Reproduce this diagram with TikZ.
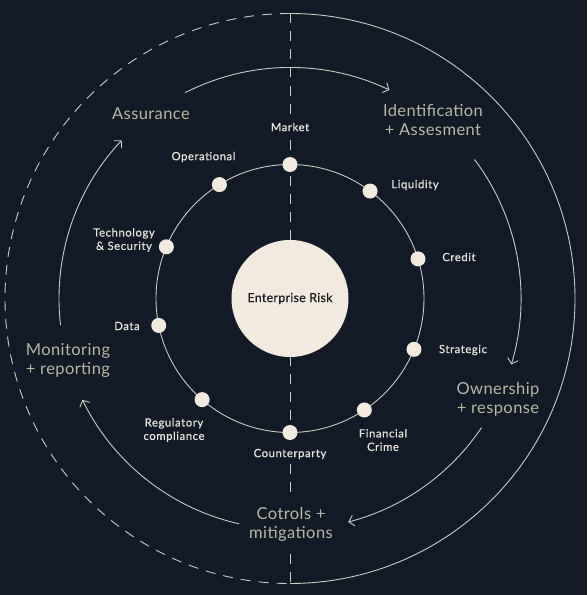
\documentclass[tikz,border=0pt]{standalone}
\usepackage{fontspec}
\setmainfont{Lato}
\newfontfamily\smallfam[LetterSpace=5,FakeBold=0.5]{Lato}
\newfontfamily\stagefam[LetterSpace=2.5]{Lato}
\newfontfamily\corefam[LetterSpace=2,FakeBold=0.4]{Lato}
\usetikzlibrary{arrows.meta}
\definecolor{bg}{HTML}{131A27}
\definecolor{cream}{HTML}{F2EADF}
\definecolor{ln}{HTML}{CBCBC4}
\definecolor{stage}{HTML}{B5B8A2}
\definecolor{lbl}{HTML}{E8E6DE}
\definecolor{coretext}{HTML}{1A1C22}
\tikzset{
  ring/.style={draw=ln, line width=0.9pt},
  dashring/.style={draw=ln, line width=0.9pt, dash pattern=on 10pt off 8pt},
  cyc/.style={draw=ln, line width=0.9pt, -{Straight Barb[length=5pt,width=11pt,line width=0.9pt]}},
  dot/.style={circle, fill=cream, inner sep=0pt, minimum size=15pt},
  small/.style={text=lbl, font=\smallfam\fontsize{11.3}{13.4}\selectfont, align=center, inner sep=0pt},
  stagelbl/.style={text=stage, font=\stagefam\fontsize{16.5}{19}\selectfont, align=center, inner sep=0pt},
  masked/.style={fill=bg, inner sep=5pt},
}
\begin{document}
\begin{tikzpicture}[x=1pt,y=1pt]
\fill[bg] (-290,-296.5) rectangle (297,298.5);
\useasboundingbox (-290,-296.5) rectangle (297,298.5);
% outer circle
\coordinate (top) at (0,285);
\coordinate (bot) at (0,-285);
\draw[ring] (top) arc[start angle=90, end angle=-90, radius=285];
\draw[dashring] (top) arc[start angle=90, end angle=270, radius=285];
\draw[dashring] (top) -- (bot);
% inner ring
\draw[ring] (0,0) circle[radius=134];
% centre
\node[circle, fill=cream, minimum size=117pt, inner sep=0pt, font=\corefam\fontsize{12.5}{14}\selectfont, text=coretext] (core) at (0,0) {Enterprise Risk};
% cycle arcs
\coordinate (a1) at (117:231);
\coordinate (a2) at (37:231);
\coordinate (a3) at (-34:231);
\coordinate (a4) at (-102.7:231);
\coordinate (a5) at (186.6:231);
\draw[cyc] (a1) arc[start angle=117, end angle=64.5, radius=231];
\draw[cyc] (a2) arc[start angle=37, end angle=-16.6, radius=231];
\draw[cyc] (a3) arc[start angle=-34, end angle=-75.4, radius=231];
\draw[cyc] (a4) arc[start angle=-102.7, end angle=-154, radius=231];
\draw[cyc] (a5) arc[start angle=186.6, end angle=136.8, radius=231];
% dots
\node[dot] (dmarket) at (90:134) {};
\node[dot] (dliq) at (53.3:134) {};
\node[dot] (dcredit) at (17.2:134) {};
\node[dot] (dstrat) at (-22.3:134) {};
\node[dot] (dfin) at (-56.3:134) {};
\node[dot] (dcount) at (-90:134) {};
\node[dot] (dreg) at (-131:134) {};
\node[dot] (ddata) at (191.6:134) {};
\node[dot] (dtech) at (157.3:134) {};
\node[dot] (dop) at (121.8:134) {};
% small labels
\node[small, masked] (lmarket) at (0,171.5) {Market};
\node[small] (lop) at (-86.5,141.5) {Operational};
\node[small] (lliq) at (125,113.5) {Liquidity};
\node[small] (lcredit) at (169,41.5) {Credit};
\node[small] (lstrat) at (173,-51.5) {Strategic};
\node[small] (lfin) at (93,-141.5) {Financial\\Crime};
\node[small, masked, inner ysep=4pt] (lcount) at (0,-155.5) {Counterparty};
\node[small] (lreg) at (-116,-131.5) {Regulatory\\compliance};
\node[small] (ldata) at (-163,-27.5) {Data};
\node[small] (ltech) at (-166,58.5) {Technology\\\& Security};
% stage labels
\node[stagelbl] (sass) at (-139,184.5) {Assurance};
\node[stagelbl] (sid) at (143,178.5) {Identification\\+ Assesment};
\node[stagelbl] (sown) at (208,-100.5) {Ownership\\+ response};
\node[stagelbl, masked, inner ysep=9pt] (sctl) at (1,-225.5) {Cotrols +\\mitigations};
\node[stagelbl] (smon) at (-222,-61.5) {Monitoring\\+ reporting};
\end{tikzpicture}
\end{document}
